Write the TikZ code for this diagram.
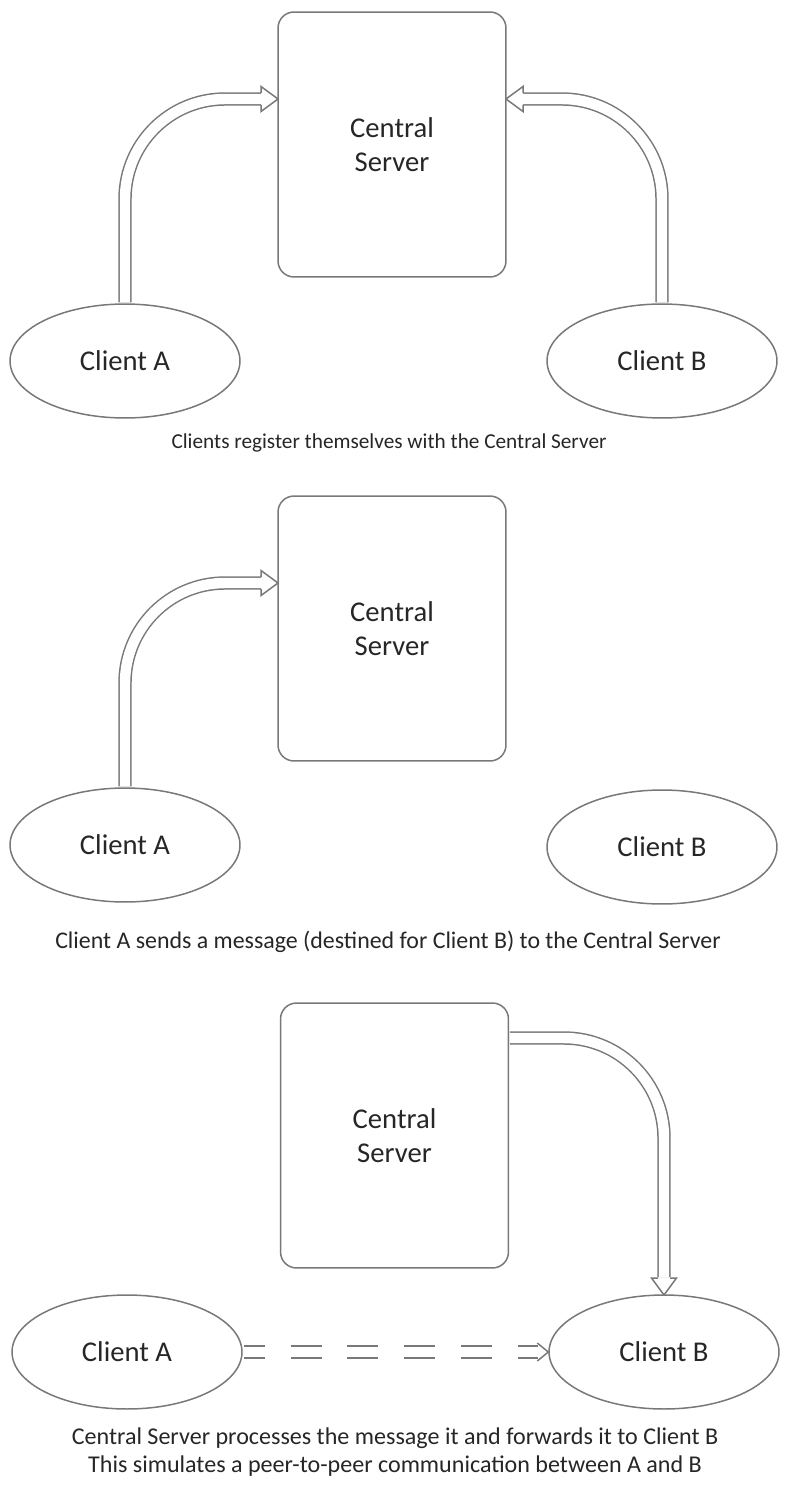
\documentclass[tikz,border=0pt]{standalone}
\usepackage{fontspec}
\setmainfont{Carlito}
\usetikzlibrary{arrows.meta,shapes.geometric}
\definecolor{linegray}{HTML}{787878}
\definecolor{textgray}{HTML}{262626}

\begin{document}
\begin{tikzpicture}[x=0.02cm, y=-0.02cm]
		\tikzstyle{server} = [draw=linegray, line width=0.85pt, rounded corners=0.32cm, minimum width=4.56cm, minimum height=5.3cm, align=center, text=textgray, font=\fontsize{16.3}{19}\selectfont]
		\tikzstyle{client} = [draw=linegray, line width=0.85pt, ellipse, minimum width=4.6cm, minimum height=2.28cm, inner sep=0pt, text=textgray, font=\fontsize{16.3}{19}\selectfont]
		\tikzstyle{pipe} = [draw=linegray, line width=0.85pt, double=white, double distance=5.95pt, rounded corners=2cm, shorten <=0.45pt]
		\tikzstyle{caption} = [text=textgray, align=center]
		\tikzset{tiphead/.pic={\draw[linegray, line width=0.85pt, fill=white] (-17,-6) -- (-17,-12.5) -- (0,0) -- (-17,12.5) -- (-17,6);}}
		\tikzset{barbhead/.pic={\draw[linegray, line width=0.85pt] (-11,-9) -- (0,0) -- (-11,9);}}
		\useasboundingbox (0,0) rectangle (808,1500);
		% registration
		\node [server] (server1) at (392,144.5) {Central\\Server};
		\node [client] (clientA1) at (125,361) {Client A};
		\node [client] (clientB1) at (662,361) {Client B};
		\coordinate (inA1) at (278,99);
		\coordinate (inB1) at (506,99);
		\draw [pipe, shorten >=0.34cm] (clientA1.north) |- (inA1);
		\draw [pipe, shorten >=0.34cm] (clientB1.north) |- (inB1);
		\pic at (inA1) {tiphead};
		\pic [rotate=180] at (inB1) {tiphead};
		\node [caption, font=\fontsize{12.1}{14}\selectfont] (cap1) at (389,443) {Clients register themselves with the Central Server};
		% sending
		\node [server] (server2) at (392,628.5) {Central\\Server};
		\node [client] (clientA2) at (125,845) {Client A};
		\node [client] (clientB2) at (662,847) {Client B};
		\coordinate (inA2) at (278,583);
		\draw [pipe, shorten >=0.34cm] (clientA2.north) |- (inA2);
		\pic at (inA2) {tiphead};
		\node [caption, font=\fontsize{13.6}{16}\selectfont] (cap2) at (388,942) {Client A sends a message (destined for Client B) to the Central Server};
		% forwarding
		\node [server] (server3) at (394.5,1135.5) {Central\\Server};
		\node [client] (clientA3) at (127,1352) {Client A};
		\node [client] (clientB3) at (664,1352) {Client B};
		\coordinate (outS3) at (509,1038);
		\coordinate (inB3) at (664,1295);
		\draw [pipe, shorten >=0.36cm] (outS3) -| (inB3);
		\pic [rotate=-90] at (inB3) {tiphead};
		\draw [pipe, dash pattern=on 0.62cm off 0.52cm, dash phase=0.2cm, shorten >=0.2cm] (clientA3.east) -- (clientB3.west);
		\pic at (clientB3.west) {barbhead};
		\node [caption, font=\fontsize{13.7}{15.9}\selectfont] (cap3) at (395,1452) {Central Server processes the message it and forwards it to Client B\\This simulates a peer-to-peer communication between A and B};
\end{tikzpicture}
\end{document}
